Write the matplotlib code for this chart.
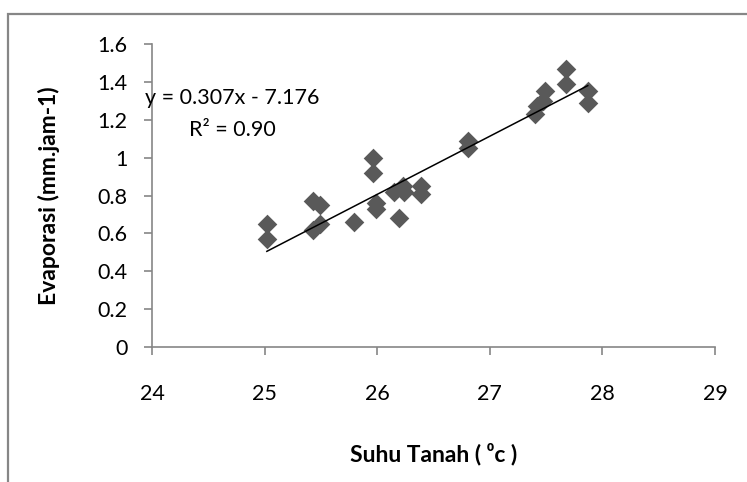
"""Scatter of soil temperature vs evaporation with linear trend line."""

import matplotlib.pyplot as plt
import numpy as np
from matplotlib.patches import Rectangle

# soil temperature (deg C)
suhu_tanah = [25.02, 25.02, 25.43, 25.49, 25.43, 25.49, 25.79, 25.96, 25.96,
              25.99, 25.99, 26.19, 26.15, 26.23, 26.24, 26.39, 26.39, 26.81,
              26.81, 27.40, 27.42, 27.47, 27.49, 27.68, 27.68, 27.87, 27.87]
# evaporation (mm/hour)
evaporasi = [0.65, 0.57, 0.77, 0.75, 0.62, 0.65, 0.66, 1.00, 0.92,
             0.76, 0.73, 0.68, 0.82, 0.85, 0.82, 0.85, 0.81, 1.09,
             1.05, 1.23, 1.27, 1.30, 1.35, 1.47, 1.39, 1.35, 1.29]

# trend line as reported in the chart
slope = 0.307
intercept = -7.176
r_squared = 0.90

x_ticks = [24, 25, 26, 27, 28, 29]
y_ticks = [0, 0.2, 0.4, 0.6, 0.8, 1, 1.2, 1.4, 1.6]
y_tick_labels = ["0", "0.2", "0.4", "0.6", "0.8", "1", "1.2", "1.4", "1.6"]

FONT = ["Lato", "DejaVu Sans"]
AXIS_GRAY = "#868686"
TXT = 15.5

plt.rcParams["font.family"] = FONT

fig = plt.figure(figsize=(7.47, 4.82), dpi=100)
ax = fig.add_axes([152 / 747, 1 - 347 / 482, 563 / 747, 303 / 482])

# outer chart frame (runs off the right and bottom edges)
fig.patches.append(Rectangle((8 / 747, -0.2), 1.2, 0.2 + 1 - 14 / 482,
                             transform=fig.transFigure, fill=False,
                             edgecolor=AXIS_GRAY, linewidth=1.6, clip_on=False))

ax.scatter(suhu_tanah, evaporasi, marker="D", s=100, color="#595959",
           linewidths=0, zorder=3)

x_line = np.array([min(suhu_tanah), max(suhu_tanah)])
ax.plot(x_line, slope * x_line + intercept, color="black", linewidth=1.1, zorder=4)

ax.set_xlim(24, 29)
ax.set_ylim(0, 1.6)
ax.set_xticks(x_ticks)
ax.set_yticks(y_ticks)
ax.set_yticklabels(y_tick_labels)

for side in ("top", "right"):
    ax.spines[side].set_visible(False)
for side in ("left", "bottom"):
    ax.spines[side].set_color(AXIS_GRAY)
    ax.spines[side].set_linewidth(1.2)

ax.tick_params(axis="both", direction="out", length=5.5, width=1.2,
               color=AXIS_GRAY, labelsize=TXT, labelcolor="black")
ax.tick_params(axis="y", pad=12)
ax.tick_params(axis="x", pad=21)

ax.set_xlabel("Suhu Tanah ( \u2070c )", fontsize=16.5, fontweight="bold")
ax.set_ylabel("Evaporasi (mm.jam-1)", fontsize=16.5, fontweight="bold")
ax.xaxis.set_label_coords(0.5, -0.317)
ax.yaxis.set_label_coords(-0.163, 0.5)

sign = "-" if intercept < 0 else "+"
ax.text(0.142, 0.822, f"y = {slope:.3f}x {sign} {abs(intercept):.3f}",
        transform=ax.transAxes, ha="center", va="center", fontsize=TXT)
ax.text(0.142, 0.716, f"R\u00b2 = {r_squared:.2f}",
        transform=ax.transAxes, ha="center", va="center", fontsize=TXT)

fig.savefig("out.png", dpi=100)
